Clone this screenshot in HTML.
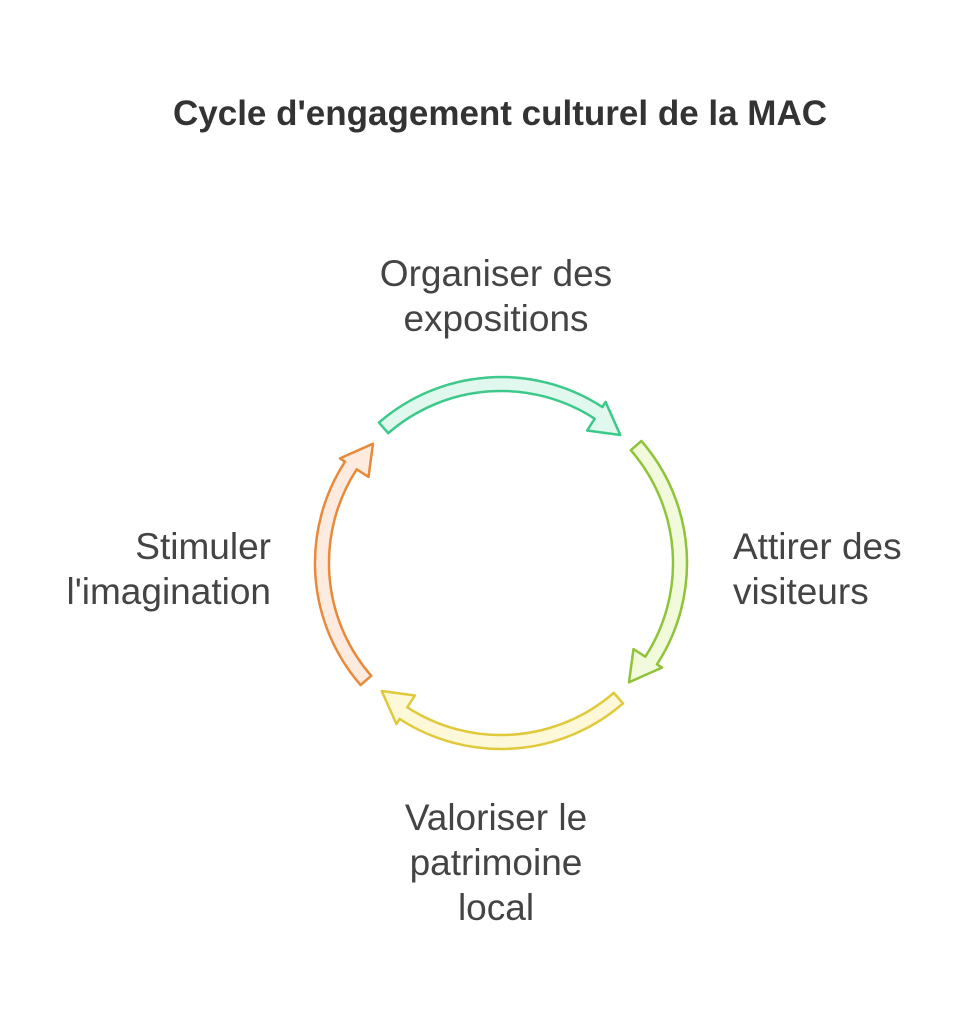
<!DOCTYPE html>
<html><head><meta charset="utf-8"><style>
html,body{margin:0;padding:0;background:#fff;}
body{width:979px;height:1024px;position:relative;overflow:hidden;font-family:"Liberation Sans",sans-serif;}
.t{position:absolute;color:#444;font-size:37px;line-height:45px;}
</style></head><body>
<div class="t" style="left:0;width:1000px;top:92px;text-align:center;font-weight:bold;font-size:35px;color:#333;line-height:44px">Cycle d'engagement culturel de la MAC</div>
<div class="t" style="left:296px;width:400px;top:251px;text-align:center">Organiser des<br>expositions</div>
<div class="t" style="left:733px;top:524px">Attirer des<br>visiteurs</div>
<div class="t" style="left:0;width:271px;top:524px;text-align:right">Stimuler<br>l'imagination</div>
<div class="t" style="left:296px;width:400px;top:795px;text-align:center">Valoriser le<br>patrimoine<br>local</div>
<svg id="s" width="979" height="1024" style="position:absolute;left:0;top:0"></svg>
<script>
var cx=501,cy=563,R=186,r=172,HO=192,HI=158,TR=175;
var cols=[["#3cc98a","#e0f8ee"],["#8fc43a","#f1fbdc"],["#e0c93a","#fcf8d8"],["#e88a3a","#fdebe0"]];
function p(rad,a){a=a*Math.PI/180;return (cx+rad*Math.cos(a)).toFixed(1)+","+(cy-rad*Math.sin(a)).toFixed(1);}
var h="";
for(var k=0;k<4;k++){
 var t=131-90*k,b=57-90*k,tip=47-90*k;
 var d="M"+p(R,t)+" A"+R+" "+R+" 0 0 1 "+p(R,b)+" L"+p(HO,b)+" L"+p(TR,tip)+" L"+p(HI,b)+" L"+p(r,b)+" A"+r+" "+r+" 0 0 0 "+p(r,t)+" Z";
 h+='<path d="'+d+'" fill="'+cols[k][1]+'" stroke="'+cols[k][0]+'" stroke-width="2.5" stroke-linejoin="round"/>';
}
document.getElementById("s").innerHTML=h;
</script>
</body></html>
